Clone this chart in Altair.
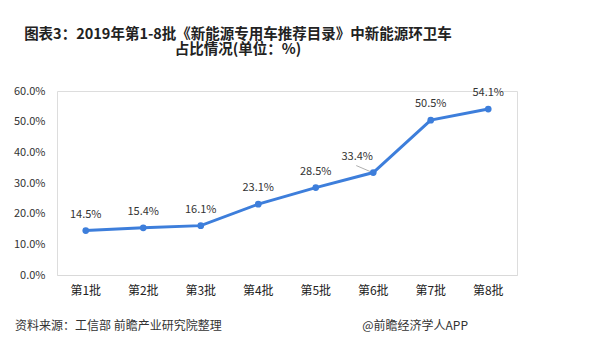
import altair as alt
import pandas as pd

categories = ["第1批", "第2批", "第3批", "第4批", "第5批", "第6批", "第7批", "第8批"]
values = [0.145, 0.154, 0.161, 0.231, 0.285, 0.334, 0.505, 0.541]
title_main = "图表3：2019年第1-8批《新能源专用车推荐目录》中新能源环卫车"
title_sub = "占比情况(单位：%)"
source_text = "资料来源：工信部 前瞻产业研究院整理"
brand_text = "@前瞻经济学人APP"

df = pd.DataFrame({"cat": categories, "v": values})

LINE = "#3D7EDB"
FONT = "Noto Sans CJK SC"

x_enc = alt.X("cat:N", sort=categories, title=None,
              scale=alt.Scale(paddingInner=0, paddingOuter=0),
              axis=alt.Axis(labelAngle=0, ticks=False, domainColor="#d9d9d9", domainWidth=1,
                            labelFontSize=12, labelColor="#222", labelPadding=10, labelFont=FONT))
y_enc = alt.Y("v:Q", title=None,
              scale=alt.Scale(domain=[0, 0.6], nice=False),
              axis=alt.Axis(format=".1%", values=[0, 0.1, 0.2, 0.3, 0.4, 0.5, 0.6],
                            grid=False, ticks=False, domain=False, labelFontSize=11,
                            labelColor="#333", labelPadding=12, labelFont=FONT))

base = alt.Chart(df).encode(x=x_enc, y=y_enc)

line = base.mark_line(color=LINE, strokeWidth=3)
pts = base.mark_circle(color=LINE, size=45, opacity=1)
labels = base.transform_filter(alt.datum.cat != "第6批").mark_text(
    dy=-16, fontSize=11, color="#333", font=FONT).encode(text=alt.Text("v:Q", format=".1%"))
label6 = base.transform_filter(alt.datum.cat == "第6批").mark_text(
    dy=-16, dx=-16, fontSize=11, color="#333", font=FONT).encode(text=alt.Text("v:Q", format=".1%"))
leader = base.transform_filter(alt.datum.cat == "第6批").mark_rule(
    color="#999", strokeWidth=0.8, xOffset=-3, yOffset=-1, x2Offset=-17, y2Offset=-7
).encode(x2="cat:N", y2="v:Q")

src = alt.Chart(pd.DataFrame({"t": [source_text]})).mark_text(
    align="left", baseline="middle", fontSize=12, color="#333", font=FONT
).encode(text="t:N", x=alt.value(-42), y=alt.value(235))
brand = alt.Chart(pd.DataFrame({"t": [brand_text]})).mark_text(
    align="right", baseline="middle", fontSize=12, color="#333", font=FONT
).encode(text="t:N", x=alt.value(411), y=alt.value(235))

chart = alt.layer(line, leader, pts, labels, label6, src, brand).properties(
    width=460, height=184,
    title=alt.Title(title_main, subtitle=title_sub, fontSize=14.5, fontWeight="bold", color="#222",
                    font=FONT, subtitleFont=FONT, subtitleFontSize=14.5, subtitleFontWeight="bold",
                    subtitleColor="#222", subtitlePadding=0, subtitleLineHeight=15,
                    anchor="middle", dx=-49, offset=28),
    autosize=alt.AutoSizeParams(type="none"),
    padding={"left": 49, "top": 83, "right": 50, "bottom": 60},
).configure_view(stroke=None).configure(background="white")

chart.save("out.html", embed_options={"renderer": "svg", "actions": False})
